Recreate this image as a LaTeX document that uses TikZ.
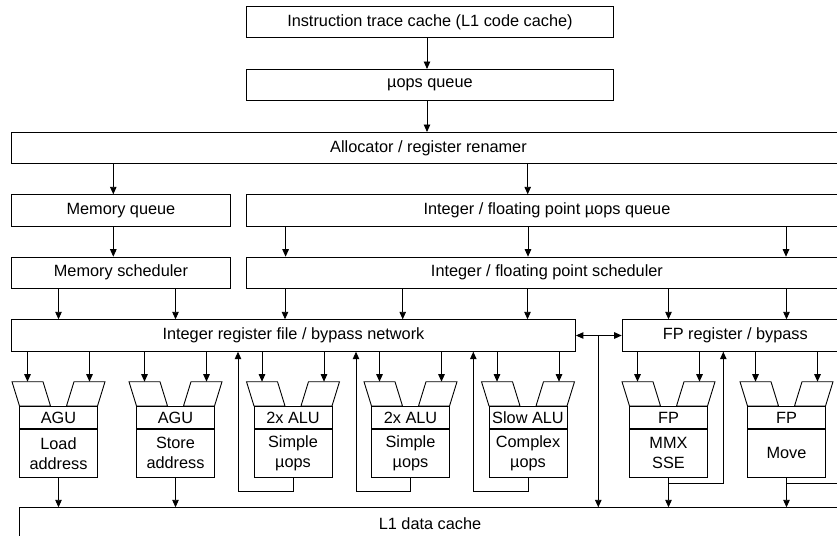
\documentclass[tikz,border=0pt]{standalone}
\usepackage{fontspec}
\setmainfont{Liberation Sans}
\usetikzlibrary{arrows.meta}

% one execution unit: input funnel, name section and operation section
\newcommand{\exunit}[4]{%
  \draw[funnel] (#2-46.5,381.7) -- (#2-15.5,381.7) -- (#2-8,406) -- (#2-39,406) -- cycle;
  \draw[funnel] (#2+15.5,381.7) -- (#2+46.5,381.7) -- (#2+39,406) -- (#2+8,406) -- cycle;
  \coordinate (#1l) at (#2-31,381.7);
  \coordinate (#1r) at (#2+31,381.7);
  \node[box, anchor=north, minimum width=78pt, minimum height=22.3pt] (#1t) at (#2,406) {#3};
  \node[box, anchor=north, minimum width=78pt, minimum height=47.4pt] (#1b) at (#1t.south) {#4};
}

\begin{document}
\begin{tikzpicture}[x=1pt,y=-1pt,
  box/.style={draw, line width=0.9pt, inner sep=0pt, anchor=north west,
              align=center, font=\fontsize{16.3}{20}\selectfont},
  funnel/.style={draw, line width=0.9pt, line join=miter},
  link/.style={line width=0.9pt},
  arr/.style={link, -{Triangle[length=7.5pt,width=6.5pt]}},
  arrboth/.style={link, {Triangle[length=7.5pt,width=6.5pt]}-{Triangle[length=7.5pt,width=6.5pt]}}]

\useasboundingbox (0,0) rectangle (837,535);
\clip (0,0) rectangle (837,535);

% front end
\node[box, minimum width=367pt, minimum height=31pt] (ins) at (246,6) {Instruction trace cache (L1 code cache)};
\node[box, minimum width=367pt, minimum height=31pt] (uops) at (246,69) {µops queue};
\node[box, minimum width=834pt, minimum height=31pt] (alloc) at (11,132) {Allocator / register renamer};

% queues and schedulers
\node[box, minimum width=219pt, minimum height=31.5pt] (memq) at (11,194.3) {Memory queue};
\node[box, minimum width=601pt, minimum height=31.5pt] (intq) at (246,194.3) {Integer / floating point µops queue};
\node[box, minimum width=219pt, minimum height=31pt] (memsch) at (11,256.7) {Memory scheduler};
\node[box, minimum width=601pt, minimum height=31pt] (intsch) at (246,256.7) {Integer / floating point scheduler};

% register files
\node[box, minimum width=564pt, minimum height=31.5pt] (reg) at (11,319.3) {Integer register file / bypass network};
\node[box, minimum width=226.3pt, minimum height=31.5pt] (fpreg) at (621.7,319.3) {FP register / bypass};

% execution units
\exunit{ua}{58.5}{AGU}{Load\\address}
\exunit{ub}{175.5}{AGU}{Store\\address}
\exunit{uc}{293}{2x ALU}{Simple\\µops}
\exunit{ud}{410.5}{2x ALU}{Simple\\µops}
\exunit{ue}{528}{Slow ALU}{Complex\\µops}
\exunit{uf}{668.5}{FP}{MMX\\SSE}
\exunit{ug}{786.5}{FP}{Move}

% data cache
\node[box, minimum width=822pt, minimum height=40pt] (l1) at (19,507.3) {};
\node[font=\fontsize{16.3}{20}\selectfont, inner sep=0pt] (l1text) at (430,523.3) {L1 data cache};

% column positions of the vertical connectors
\coordinate (xa) at (427,0);
\coordinate (xm) at (113.3,0);
\coordinate (xq) at (527.7,0);
\coordinate (xs1) at (285.6,0);
\coordinate (xs2) at (528,0);
\coordinate (xs3) at (786,0);
\coordinate (xr1) at (58.5,0);
\coordinate (xr2) at (175.5,0);
\coordinate (xr3) at (285,0);
\coordinate (xr4) at (402.7,0);
\coordinate (xr5) at (527.5,0);
\coordinate (xr6) at (668.5,0);
\coordinate (xr7) at (786.5,0);

% front end flow
\draw[arr] (ins.south -| xa) -- (uops.north -| xa);
\draw[arr] (uops.south -| xa) -- (alloc.north -| xa);
\draw[arr] (alloc.south -| xm) -- (memq.north -| xm);
\draw[arr] (alloc.south -| xq) -- (intq.north -| xq);
\draw[arr] (memq.south -| xm) -- (memsch.north -| xm);
\draw[arr] (intq.south -| xs1) -- (intsch.north -| xs1);
\draw[arr] (intq.south -| xs2) -- (intsch.north -| xs2);
\draw[arr] (intq.south -| xs3) -- (intsch.north -| xs3);

% schedulers to register files
\draw[arr] (memsch.south -| xr1) -- (reg.north -| xr1);
\draw[arr] (memsch.south -| xr2) -- (reg.north -| xr2);
\draw[arr] (intsch.south -| xr3) -- (reg.north -| xr3);
\draw[arr] (intsch.south -| xr4) -- (reg.north -| xr4);
\draw[arr] (intsch.south -| xr5) -- (reg.north -| xr5);
\draw[arr] (intsch.south -| xr6) -- (fpreg.north -| xr6);
\draw[arr] (intsch.south -| xr7) -- (fpreg.north -| xr7);

% register files to unit inputs
\foreach \u in {ua,ub,uc,ud,ue}{
  \draw[arr] (reg.south -| \u l) -- (\u l);
  \draw[arr] (reg.south -| \u r) -- (\u r);
}
\foreach \u in {uf,ug}{
  \draw[arr] (fpreg.south -| \u l) -- (\u l);
  \draw[arr] (fpreg.south -| \u r) -- (\u r);
}

% address units to the data cache
\draw[arr] (uab.south) -- (l1.north -| uab.south);
\draw[arr] (ubb.south) -- (l1.north -| ubb.south);

% ALU results back to the bypass network
\coordinate (kc) at (238,491.7);
\coordinate (kd) at (356,491.7);
\coordinate (ke) at (473.3,491.7);
\draw[arr] (ucb.south) |- (kc) -- (reg.south -| kc);
\draw[arr] (udb.south) |- (kd) -- (reg.south -| kd);
\draw[arr] (ueb.south) |- (ke) -- (reg.south -| ke);

% FP results
\coordinate (kf) at (723.3,483.3);
\coordinate (kg) at (845,483.3);
\draw[arr] (ufb.south) -- (l1.north -| ufb.south);
\draw[arr] (ufb.south |- kf) -- (kf) -- (fpreg.south -| kf);
\draw[arr] (ugb.south) -- (l1.north -| ugb.south);
\draw[link] (ugb.south |- kg) -- (kg);

% bypass between the register files and the data cache
\draw[arrboth] (reg.east) -- (fpreg.west);
\coordinate (bus) at (598.3,335);
\draw[arr] (bus) -- (l1.north -| bus);

\end{tikzpicture}
\end{document}
